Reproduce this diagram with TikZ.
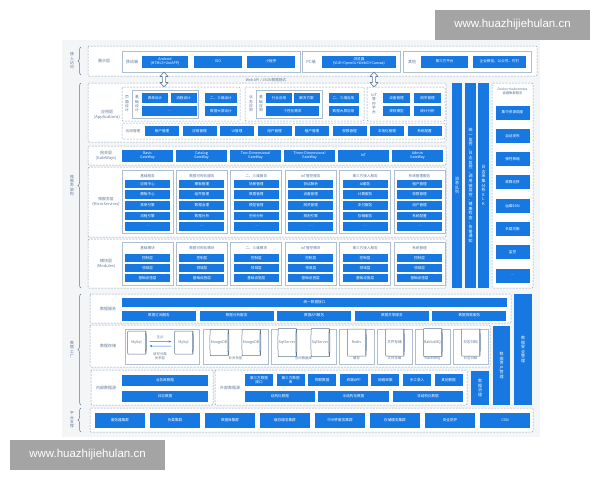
\documentclass[tikz,border=0pt]{standalone}
\usepackage{fontspec}
\setmainfont{Noto Sans CJK SC}
\newfontfamily\wmfont{Liberation Sans}
\usetikzlibrary{positioning,arrows.meta,shapes.geometric,decorations.pathreplacing}

\definecolor{blkc}{RGB}{24,120,226}
\definecolor{dashc}{RGB}{150,168,188}
\definecolor{panc}{RGB}{172,190,208}
\definecolor{labc}{RGB}{95,120,148}
\definecolor{bgc}{RGB}{243,245,247}
\definecolor{wmc}{RGB}{164,164,164}

\tikzset{
  blkbox/.style={fill=blkc, text=white, inner sep=0pt, align=center, font=\fontsize{3.6}{4.1}\selectfont},
  lyr/.style={draw=dashc, dash pattern=on 2pt off 1.2pt, line width=0.5pt, fill=white, rounded corners=1pt},
  pnl/.style={draw=panc, line width=0.7pt, fill=white},
  lbl/.style={text=labc, align=center, inner sep=0pt, font=\fontsize{4}{4.8}\selectfont},
  vlbl/.style={text=labc, align=center, inner sep=0pt, font=\fontsize{3.8}{4.3}\selectfont},
  db/.style={cylinder, draw=labc, line width=0.5pt, fill=white, aspect=0.3, inner sep=0pt, text=labc, minimum height=19, font=\fontsize{3.6}{4}\selectfont},
  brc/.style={draw=labc, line width=0.5pt, decorate, decoration={brace, amplitude=3pt}},
  arr/.style={-{Stealth[length=2.5pt,width=2pt]}, blkc, line width=0.5pt},
  dblarr/.style={draw=labc, fill=white, line width=0.6pt, line join=round},
  wm/.style={fill=wmc, text=white, minimum width=155, minimum height=30, inner sep=0pt, font=\wmfont\fontsize{11.5}{12}\selectfont},
}

\begin{document}
\begin{tikzpicture}[x=1pt,y=-1pt]
    \useasboundingbox (0,0) rectangle (600,480);
    \fill[bgc] (62,40) rectangle (540,437);

    % braces on the left
    \draw[brc] (81,75) -- (81,47);
    \node (g1) [vlbl] at (72,61) {接\\入\\访\\问};
    \draw[brc] (81,288) -- (81,83);
    \node (g2) [vlbl] at (72,185.5) {微\\服\\务\\架\\构};
    \draw[brc] (81,405) -- (81,294);
    \node (g3) [vlbl] at (72,349.5) {数\\据\\工\\厂};
    \draw[brc] (81,432) -- (81,408);
    \node (g4) [vlbl] at (72,420) {平\\台\\支\\撑};

    % display layer
    \draw[lyr] (88,46) rectangle (537,76);
    \node (show) [lbl] at (104,61) {展示层};
    \draw[pnl] (122,51) rectangle (300,72);
    \node (mob) [lbl] at (132,61.5) {移动端};
    \node (andr) [blkbox, minimum width=46, minimum height=12] at (165,61.5) {Android\\(HTML5+UniAPP)};
    \node (ios) [blkbox, minimum width=48, minimum height=12] at (218,61.5) {ISO};
    \node (mini) [blkbox, minimum width=48, minimum height=12] at (271,61.5) {小程序};
    \draw[pnl] (302,51) rectangle (400,72);
    \node (pc) [lbl] at (311,61.5) {PC端};
    \node (brow) [blkbox, minimum width=74, minimum height=12] at (359,61.5) {浏览器\\(VUE+OpenGL+WebGl+Canvas)};
    \draw[pnl] (403,51) rectangle (531,72);
    \node (oth) [lbl] at (412,61.5) {其他};
    \node (third) [blkbox, minimum width=47, minimum height=12] at (444.5,61.5) {第三方平台};
    \node (wx) [blkbox, minimum width=53, minimum height=12] at (499.5,61.5) {企业微信、公众号、钉钉};

    % application layer
    \draw[lyr] (88,83) rectangle (446,142);
    \node (app) [lbl] at (107,115) {应用层\\(Applications)};

    % two-way arrows between display and application layer
    \draw[dblarr, shift={(164,79.5)}] (0,-7.5) -- (4,-3) -- (1.6,-3) -- (1.6,3) -- (4,3) -- (0,7.5) -- (-4,3) -- (-1.6,3) -- (-1.6,-3) -- (-4,-3) -- cycle;
    \draw[dblarr, shift={(374,79.5)}] (0,-7.5) -- (4,-3) -- (1.6,-3) -- (1.6,3) -- (4,3) -- (0,7.5) -- (-4,3) -- (-1.6,3) -- (-1.6,-3) -- (-4,-3) -- cycle;
    \node (json) [lbl, font=\fontsize{3.6}{4}\selectfont] at (266,80) {Web API / JSON数据格式};

    \draw[lyr] (122,87) rectangle (240,121);
    \node (pd) [vlbl] at (127,104) {页\\面\\设\\计};
    \draw[pnl] (132,90) rectangle (198,118);
    \node (bd) [vlbl] at (137,104) {基\\础\\设\\计};
    \node (form) [blkbox, minimum width=26, minimum height=10] at (155,98) {表单设计};
    \node (flow) [blkbox, minimum width=26, minimum height=10] at (183.5,98) {流程设计};
    \node (more1) [blkbox, minimum width=55, minimum height=10] at (169.5,111) {…};
    \node (d23) [blkbox, minimum width=32, minimum height=10] at (221,98) {二、三维设计};
    \node (dscr) [blkbox, minimum width=32, minimum height=10] at (221,111) {数据大屏设计};

    \draw[lyr] (245,87) rectangle (364,121);
    \node (ba) [vlbl] at (251,104) {业\\务\\应\\用};
    \draw[pnl] (256,90) rectangle (322,118);
    \node (bs) [vlbl] at (261,104) {基\\础\\应\\用};
    \node (ind) [blkbox, minimum width=26, minimum height=10] at (279,98) {行业应用};
    \node (sol) [blkbox, minimum width=26, minimum height=10] at (306.5,98) {解决方案};
    \node (cus) [blkbox, minimum width=53, minimum height=10] at (292.5,111) {个性化需求};
    \node (a23) [blkbox, minimum width=30, minimum height=10] at (343.5,98) {二、三维应用};
    \node (ascr) [blkbox, minimum width=30, minimum height=10] at (343.5,111) {数据大屏应用};

    \draw[lyr] (367,87) rectangle (445,121);
    \node (iot) [vlbl] at (374,104) {IoT\\管\\控\\平\\台};
    \node (dev) [blkbox, minimum width=27, minimum height=10] at (396.5,98) {设备管理};
    \node (iotgw) [blkbox, minimum width=27, minimum height=10] at (427.5,98) {网关管理};
    \node (rule) [blkbox, minimum width=27, minimum height=10] at (396.5,111) {规则模型};
    \node (stat) [blkbox, minimum width=27, minimum height=10] at (427.5,111) {统计分析};

    \draw[lyr] (122,123) rectangle (445,139);
    \node (mg) [lbl, font=\fontsize{3.6}{4}\selectfont] at (133,131) {应用管理};
    \foreach \t [count=\i from 0] in {账户管理,应用管理,UI管理,用户管理,租户管理,权限管理,本地化管理,系统配置}
        \node (mg\i) [blkbox, minimum width=34, minimum height=10] at ({162+37.5*\i},131) {\t};

    % gateways
    \draw[lyr] (88,146) rectangle (446,165);
    \node (gwl) [lbl] at (106,155.5) {网关层\\(GateWays)};
    \foreach \t [count=\i from 0] in {Basic\\GateWay,Catalog\\GateWay,Two-Dimensional\\GateWay,Three-Dimensional\\GateWay,IoT,Admin\\GateWay}
        \node (gw\i) [blkbox, minimum width=51, minimum height=12] at ({147.5+54*\i},155.5) {\t};

    % vertical bars
    \node (mq) [blkbox, minimum width=10, minimum height=205, font=\fontsize{4}{4.6}\selectfont] at (457,185.5) {消\\息\\队\\列};
    \node (mon) [blkbox, minimum width=11, minimum height=205, font=\fontsize{4}{4.6}\selectfont] at (470.5,185.5) {统\\一\\监\\控\\、\\日\\志\\监\\控\\、\\调\\用\\链\\监\\控\\、\\健\\康\\检\\查\\、\\告\\警\\通\\知};
    \node (elk) [blkbox, minimum width=11, minimum height=205, font=\fontsize{4}{4.6}\selectfont] at (483.5,185.5) {日\\志\\采\\集\\分\\析\\E\\L\\K};

    % container cluster
    \draw[lyr] (492,83) rectangle (533,288);
    \node (dk) [lbl, font=\fontsize{3.3}{4}\selectfont] at (512.5,91.5) {Docker+kubernetes\\容器集群服务};
    \foreach \t [count=\i from 0] in {集中资源调度,自动发布,弹性伸缩,故障迁移,运维SDN,负载均衡,监控,…}
        \node (dk\i) [blkbox, minimum width=34, minimum height=14] at (512.5,{112.5+23.3*\i}) {\t};

    % micro services
    \draw[lyr] (88,167) rectangle (446,237);
    \node (msl) [lbl, font=\fontsize{3.8}{4.6}\selectfont] at (106,202) {微服务层\\(MicroServices)};
    \foreach \t/\a/\b/\c/\d [count=\i from 0] in {基础服务/应用中心/模板中心/表单引擎/流程引擎,数据可视化服务/模板管理/组件管理/数据治理/数据分析,二、三维服务/场景管理/数据管理/模型管理/空间分析,IoT管控服务/协议解析/设备管理/网关管理/规则引擎,第三方接入服务/AI服务/计算服务/支付服务/存储服务,系统管理服务/租户管理/权限管理/用户管理/系统配置}{
        \pgfmathsetmacro\xl{122+54.4*\i}
        \pgfmathsetmacro\xc{\xl+25.5}
        \draw[pnl] (\xl,170) rectangle ++(51,63);
        \node (ms\i) [lbl, font=\fontsize{3.6}{4}\selectfont] at (\xc,176) {\t};
        \foreach \s [count=\j] in {\a,\b,\c,\d,…}
            \node (ms\i-\j) [blkbox, minimum width=45, minimum height=8.6] at (\xc,{173.4+10.6*\j}) {\s};
    }

    % modules
    \draw[lyr] (88,239) rectangle (446,288);
    \node (mdl) [lbl] at (106,264) {模块层\\(Modules)};
    \foreach \t [count=\i from 0] in {基础模块,数据可视化模块,二、三维模块,IoT管控模块,第三方接入服务,系统管理}{
        \pgfmathsetmacro\xl{122+54.4*\i}
        \pgfmathsetmacro\xc{\xl+25.5}
        \draw[pnl] (\xl,242) rectangle ++(51,43);
        \node (md\i) [lbl, font=\fontsize{3.6}{4}\selectfont] at (\xc,248) {\t};
        \foreach \s [count=\j] in {控制层,领域层,基础设施层}
            \node (md\i-\j) [blkbox, minimum width=45, minimum height=8.2] at (\xc,{248+10*\j}) {\s};
    }

    % data services
    \draw[lyr] (90,294) rectangle (511,323);
    \node (dsl) [lbl] at (108,309) {数据服务};
    \node (uni) [blkbox, minimum width=385, minimum height=9.5] at (314.5,302.5) {统一数据接口};
    \foreach \t [count=\i from 0] in {数据订阅服务,数据分析服务,数据API服务,数据共享服务,数据探索服务}
        \node (ds\i) [blkbox, minimum width=74, minimum height=10] at ({159+77.6*\i},315.5) {\t};

    \node (sec) [blkbox, minimum width=18, minimum height=111, font=\fontsize{4}{4.6}\selectfont] at (523,349.5) {数\\据\\安\\全\\管\\理};
    \node (asset) [blkbox, minimum width=17, minimum height=79, font=\fontsize{4}{4.6}\selectfont] at (501.5,365.5) {数\\据\\资\\产\\管\\理};
    \node (gov) [blkbox, minimum width=18, minimum height=34, font=\fontsize{4}{4.6}\selectfont] at (480,388) {数\\据\\治\\理};

    % data storage
    \draw[lyr] (90,325) rectangle (490,367);
    \node (dsto) [lbl] at (108,346) {数据存储};
    \draw[pnl] (125,329) rectangle (199,364);
    \node (my1) [db, minimum width=23] at (136.5,342.5) {MySql};
    \node (my2) [db, minimum width=23] at (183.5,342.5) {MySql};
    \node (ms) [lbl, font=\fontsize{3.4}{4}\selectfont] at (160,337) {主从};
    \draw[arr] ([xshift=3pt,yshift=1pt]my1.east) -- ([xshift=-3pt,yshift=1pt]my2.west);
    \draw[arr] ([xshift=-3pt,yshift=-3.5pt]my2.west) -- ([xshift=3pt,yshift=-3.5pt]my1.east);
    \node (rw) [lbl, font=\fontsize{3.4}{4.2}\selectfont] at (160,356) {读写分离\\关系型};
    \draw[pnl] (203,329) rectangle (268,364);
    \node (mongo1) [db, minimum width=26] at (219,342.5) {MongoDB};
    \node (mongo2) [db, minimum width=26] at (251,342.5) {MongoDB};
    \node (nrel) [lbl, font=\fontsize{3.4}{4}\selectfont] at (235.5,358) {非关系型};
    \draw[pnl] (271,329) rectangle (336,364);
    \node (sq1) [db, minimum width=28] at (287,342.5) {SqlServer};
    \node (sq2) [db, minimum width=28] at (320,342.5) {SqlServer};
    \node (geo) [lbl, font=\fontsize{3.4}{4}\selectfont] at (303.5,358) {空间数据库};
    \draw[pnl] (339,329) rectangle (374,364);
    \node (redis) [db, minimum width=27] at (356.5,342.5) {Redis};
    \node (cache) [lbl, font=\fontsize{3.4}{4}\selectfont] at (356.5,358) {缓存};
    \draw[pnl] (377,329) rectangle (412,364);
    \node (file) [db, minimum width=27] at (394.5,342.5) {文件存储};
    \node (filel) [lbl, font=\fontsize{3.4}{4}\selectfont] at (394.5,358) {文件存储};
    \draw[pnl] (415,329) rectangle (450,364);
    \node (rmq) [db, minimum width=28] at (432.5,342.5) {RabbitMQ};
    \node (rmql) [lbl, font=\fontsize{3.4}{4}\selectfont] at (432.5,358) {RabbitMQ};
    \draw[pnl] (453,329) rectangle (488,364);
    \node (arch) [db, minimum width=27] at (470.5,342.5) {日志归档};
    \node (archl) [lbl, font=\fontsize{3.4}{4}\selectfont] at (470.5,358) {日志归档};

    % data sources
    \draw[lyr] (91,370) rectangle (213,405);
    \node (inl) [lbl] at (106,388) {内部数据源};
    \node (biz) [blkbox, minimum width=86, minimum height=11] at (165,380.5) {业务库数据};
    \node (logd) [blkbox, minimum width=86, minimum height=11] at (165,396.5) {日志数据};
    \draw[lyr] (215,370) rectangle (467,405);
    \node (exl) [lbl] at (230,388) {外部数据源};
    \foreach \t [count=\i from 0] in {第三方数据\\接口,第三方数据\\库,物联数据,终端APP,网络采集,手工录入,其他数据}
        \node (ex\i) [blkbox, minimum width=28, minimum height=12] at ({259+31.6*\i},380) {\t};
    \node (st1) [blkbox, minimum width=70, minimum height=11] at (280,396.5) {结构化数据};
    \node (st2) [blkbox, minimum width=71, minimum height=11] at (353.5,396.5) {半结构化数据};
    \node (st3) [blkbox, minimum width=70, minimum height=11] at (428,396.5) {非结构化数据};

    % platform
    \draw[lyr] (90,408) rectangle (533,432);
    \foreach \t [count=\i from 0] in {服务器集群,负载集群,数据库集群,缓存服务集群,中间件服务集群,存储服务集群,安全防护,CDN}
        \node (pf\i) [blkbox, minimum width=50, minimum height=15] at ({120+55*\i},420.5) {\t};

    % watermarks
    \node (wm1) [wm] at (512.5,25) {www.huazhijiehulan.cn};
    \node (wm2) [wm] at (87.5,455) {www.huazhijiehulan.cn};
\end{tikzpicture}
\end{document}
